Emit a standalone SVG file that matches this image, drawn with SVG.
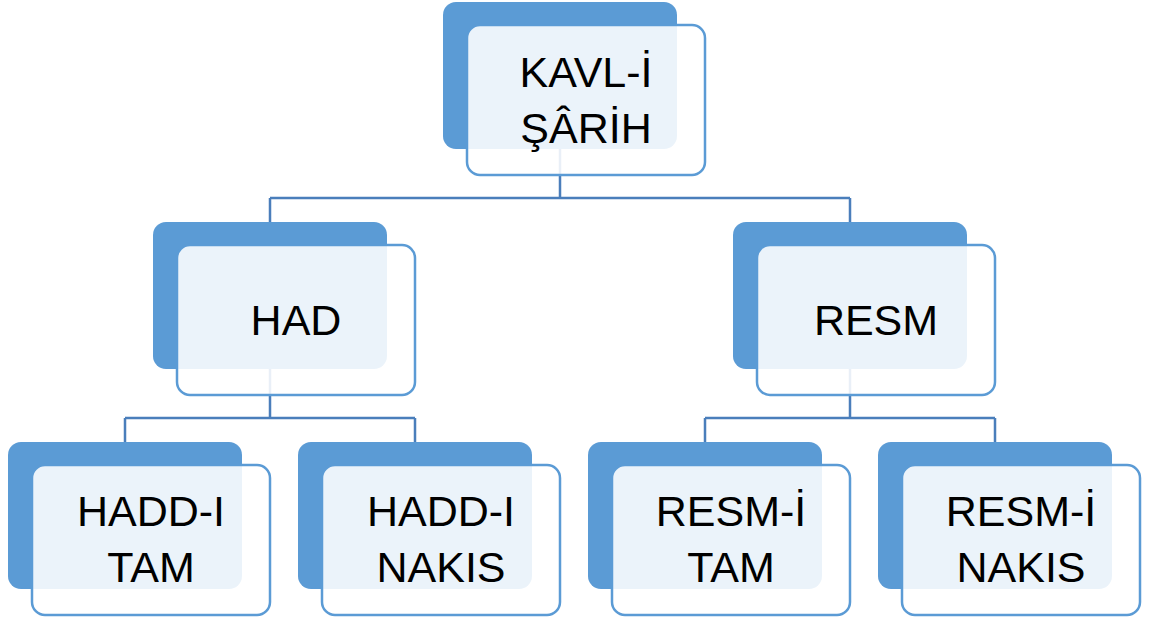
<svg xmlns="http://www.w3.org/2000/svg" width="1150" height="619" viewBox="0 0 1150 619">
<style>
.back{fill:#5B9BD5}
.front{fill:#FFFFFF;fill-opacity:0.88;stroke:#5B9BD5;stroke-width:2.5}
.lbl{font-family:"Liberation Sans",Arial,sans-serif;font-size:43px;fill:#000;text-anchor:middle}
.con{fill:none;stroke:#4A7EBB;stroke-width:2.5}
</style>
<rect width="1150" height="619" fill="#FFFFFF"/>
<g id="connectors">
<path class="con" d="M560,149 V198 M270,198 H850 M270,198 V222 M850,198 V222"/>
<path class="con" d="M270,369 V418 M125,418 H415 M125,418 V442 M415,418 V442"/>
<path class="con" d="M850,369 V418 M705,418 H995 M705,418 V442 M995,418 V442"/>
</g>
<g id="n-kavl">
<rect class="back" x="443" y="2" width="234" height="147" rx="13"/>
<rect class="front" x="467" y="25" width="238" height="150" rx="13"/>
<text class="lbl" x="586" y="87">KAVL-İ</text>
<text class="lbl" x="586" y="143">ŞÂRİH</text>
</g>
<g id="n-had">
<rect class="back" x="153" y="222" width="234" height="147" rx="13"/>
<rect class="front" x="177" y="245" width="238" height="150" rx="13"/>
<text class="lbl" x="296" y="335">HAD</text>
</g>
<g id="n-resm">
<rect class="back" x="733" y="222" width="234" height="147" rx="13"/>
<rect class="front" x="757" y="245" width="238" height="150" rx="13"/>
<text class="lbl" x="876" y="335">RESM</text>
</g>
<g id="n-hadd-tam">
<rect class="back" x="8" y="442" width="234" height="147" rx="13"/>
<rect class="front" x="32" y="465" width="238" height="150" rx="13"/>
<text class="lbl" x="151" y="526">HADD-I</text>
<text class="lbl" x="151" y="582">TAM</text>
</g>
<g id="n-hadd-nakis">
<rect class="back" x="298" y="442" width="234" height="147" rx="13"/>
<rect class="front" x="322" y="465" width="238" height="150" rx="13"/>
<text class="lbl" x="441" y="526">HADD-I</text>
<text class="lbl" x="441" y="582">NAKIS</text>
</g>
<g id="n-resm-tam">
<rect class="back" x="588" y="442" width="234" height="147" rx="13"/>
<rect class="front" x="612" y="465" width="238" height="150" rx="13"/>
<text class="lbl" x="731" y="526">RESM-İ</text>
<text class="lbl" x="731" y="582">TAM</text>
</g>
<g id="n-resm-nakis">
<rect class="back" x="878" y="442" width="234" height="147" rx="13"/>
<rect class="front" x="902" y="465" width="238" height="150" rx="13"/>
<text class="lbl" x="1021" y="526">RESM-İ</text>
<text class="lbl" x="1021" y="582">NAKIS</text>
</g>
</svg>
